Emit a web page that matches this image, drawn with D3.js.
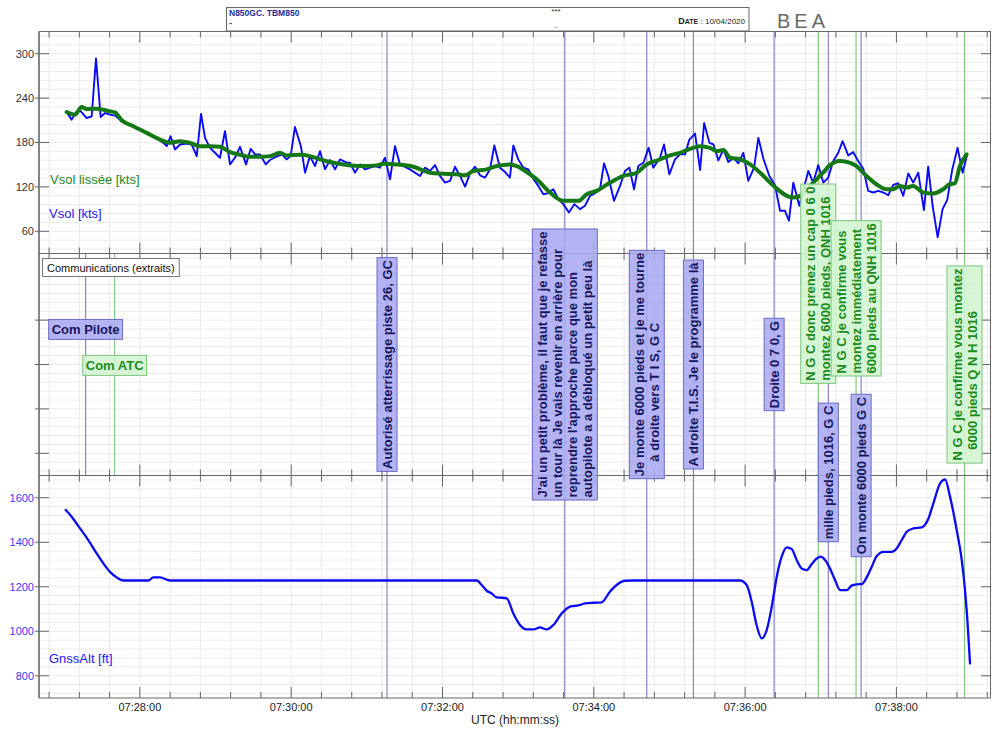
<!DOCTYPE html>
<html><head><meta charset="utf-8">
<script src="https://cdn.jsdelivr.net/npm/d3@7"></script>
<style>
html,body{margin:0;padding:0;background:#fff;}
svg{display:block;font-family:"Liberation Sans",Arial,Helvetica,sans-serif;}
</style></head><body>
<svg id="chart" width="992" height="731"></svg>
<script>
// ---- data (times in seconds after 07:26:40 UTC) ----
const startTime = "07:26:40";
const endTime = "07:39:15";

// raw ground speed, kts
const vsolT = [21.9,25.9,29.3,32.5,37.8,41.8,45.2,48.9,52.3,56.3,60.3,65.6,72.2,80.1,88,94.6,98.6,101.3,104.4,107.9,111.8,117.1,121.1,125.1,128.5,131.7,135.6,139.6,143.5,147.5,151.5,155.4,159.4,164.2,167.9,171.3,175.3,179.8,183.2,188,192.5,196.4,199.6,203,207.8,211,214.9,218.9,222.9,226.8,230.8,
  234.8,238.7,244,246.6,250.6,254.6,258.5,262.5,266.5,270.4,274.4,278.4,282.3,286.3,294.2,302.2,306.1,310.1,314.1,318,322,326,329.9,333.9,337.9,341.8,345.8,349.8,353.7,357.7,361.1,365.6,369.6,373.5,376.2,380.1,384.1,388.1,392,396,400,404,407.9,411.9,415.8,420.3,424.5,429.1,433,437,441,444.9,448.1,451.5,456,460.8,464.7,468.2,471.9,475.3,479.3,483.5,487.2,492.5,
  495.7,499.9,504.4,508.4,512.4,515.8,520.3,524.3,527.5,531.7,534.9,538.8,542.8,546.7,550.7,554.6,558.6,562.5,567.1,570.5,574.5,579.2,583.7,587.7,591.6,594.8,598.2,603,610.1,614,618,622,625.9,629.9,633.9,637.3,641.8,645.7,649.7,653.7,657.6,661.6,665.6,669.6,673.5,677.5,681.5,685.4,689.4,693.3,697.3,701.8,705.2,708.7,712.7,716.6,720.3,724.3,728.5,732.5,736.1];
const vsol = [221.2,210.9,220.7,223.4,213.1,215.4,293.7,214.5,219.8,217.6,216.3,208.6,204.2,197.5,190.7,184,179.5,175.1,188.5,170.6,177.3,178.6,177.3,161.6,218.5,186.3,172.8,166.1,159.4,195.2,150.4,159.4,174.2,150.4,171.5,163.9,163.9,150.4,156.3,160.7,163.9,157.2,161.6,201,174.2,139.2,161.6,148.2,168.3,143.7,156.3,
  143.7,157.2,152.7,152.7,139.2,150.4,143.7,146,148.2,146,159.4,130.3,175.1,150.4,143.7,134.8,146,141.5,149.5,134.8,125.8,128.1,147.3,134.8,120.4,138.3,147.3,135.7,132.5,143.7,176,146,140.1,132.5,176,157.2,146,143.7,131.2,121.3,110.1,111.5,116.8,103.4,96.7,85.5,96.7,90,94.5,107.9,111.5,116.8,151.8,134.8,101.2,121.3,141.5,146,116.8,148.2,152.7,172.8,146,159.4,
  177.3,137,157.2,163.9,163.9,184,192.1,142.8,206.4,179.5,177.3,155.8,170.6,153.6,159.4,151.8,166.1,128.1,146,186.3,158.1,134.8,122.2,87.7,87.7,74.3,125.8,94.5,141.5,125.8,149.5,125.8,132.5,154.9,166.1,181.8,162.5,167,154.9,144.6,114.6,112.4,114.6,112.4,108.8,122.7,124.9,107.9,138.3,125.8,139.2,88.6,147.3,94.5,51.9,90,102.5,143.7,172.8,139.2,163.9];

// smoothed ground speed, kts
const vsolSmoothT = [21.9,28.6,33.8,37.8,45.7,56.3,60.3,65.6,74.8,85.4,96,103.9,111.8,119.8,127.7,135.6,143.5,151.5,159.4,167.3,175.3,183.2,191.1,196.4,207,214.9,222.9,230.8,
  241.4,257.2,267.8,273.1,283.7,296.9,310.1,320.6,331.3,337.9,344.5,355.1,363,373.5,378.9,389.4,394.7,405.3,415.8,427.7,434.4,442.3,452.9,463.4,474,482,492.5,
  500.4,508.4,516.3,524.3,532.2,537.5,542.8,548.1,556,564,571.9,579.8,585.1,593.1,598.3,603.6,608.9,615.4,621.8,627.1,635,640.3,648.3,656.2,664.1,672.1,677.3,682.6,687.9,693.3,701.2,709.1,717.1,722.4,726.3,730.3,735.6];
const vsolSmooth = [221.2,217.6,227.9,225.2,225.7,222.1,220.7,210,201.9,193,184,179.5,181.8,179.5,175.1,175.1,174.2,167,163.4,160.7,160.7,161.6,166.1,162.5,163.4,161.6,157.2,153.6,
  150.4,148.2,149.1,151.3,150.4,147.3,139.2,137.9,137,135.7,141.5,143.7,148.2,150.4,148.2,137,130.3,112.4,101.2,101.2,110.1,114.6,125.8,134.8,139.2,150.4,157.2,
  162.5,166.1,171.5,175.1,172.8,168.3,169.7,159.4,157.2,150.4,139.2,125.8,117.7,107.9,105.6,107.9,116.8,128.1,139.2,149.1,154.9,154,148.2,134.8,123.6,116.8,116.8,121.3,119.1,121.3,112.4,111,116.8,123.6,124.9,148.2,163.9];

// GNSS altitude, ft
const altT = [20.6,25.9,32.5,39.1,45.7,51,56.3,61.6,66.9,86.7,90.6,96,103.9,347.1,351.1,355.1,359,363,365.6,370.9,376.2,381.5,386.8,392,397.3,402.6,407.9,414.5,422.4,427.7,433,439.6,446.2,452.8,458.1,464.7,471.3,555.9,561.2,565.2,569.1,573.1,577.1,581.1,585.1,589,593,597,600.9,604.9,608.9,612.8,616.8,620,623.4,627.3,631.3,635.3,640.6,644.5,648.5,652.5,656.4,660.4,664.4,669.6,676.3,680.2,684.2,688.2,693.4,700.1,705.4,709.3,714.6,718.6,722.5,727.8,731.8,734.4,735.7,738.4];
const alt = [1548,1515,1462,1410,1350,1305,1267,1242,1228,1228,1242,1242,1228,1228,1208,1182,1170,1152,1151,1148,1080,1028,1008,1008,1017,1008,1028,1080,1113,1116,1125,1128,1130,1178,1208,1227,1228,1228,1208,1133,1028,968,1005,1110,1245,1335,1377,1369,1320,1282,1275,1302,1327,1335,1320,1282,1230,1185,1185,1205,1211,1212,1242,1290,1338,1357,1357,1372,1410,1447,1462,1467,1507,1575,1664,1682,1605,1455,1320,1185,1095,851];

// radio communications (extracts)
const pilotTimes = ["07:31:16","07:33:37","07:34:42","07:35:19","07:36:23","07:37:06","07:37:32"];
const pilotTexts = [
  ["Autorisé atterrissage piste 26, GC"],
  ["J'ai un petit problème, il faut que je refasse","un tour là Je vais revenir en arrière pour","reprendre l'approche parce que mon","autopilote a a débloqué un petit peu là"],
  ["Je monte 6000 pieds et je me tourne","    à droite vers T I S, G C"],
  ["A droite T.I.S. Je le programme là"],
  ["Droite 0 7 0, G"],
  ["mille pieds, 1016, G C"],
  ["On monte 6000 pieds G C"]
];
const atcTimes = ["07:36:58","07:37:28","07:38:54"];
const atcTexts = [
  ["N G C donc prenez un cap 0 6 0","montez 6000 pieds, QNH 1016"],
  ["N G C je confirme vous","montez immédiatement","6000 pieds au QNH 1016"],
  ["N G C je confirme vous montez","   6000 pieds Q N H 1016"]
];

// axis ticks
const vsolTicks = [60,120,180,240,300];
const altTicks = [800,1000,1200,1400,1600];
const commTicks = [0,1,2,3];

// ---- helpers ----
const toSec = s => { const p = s.split(":").map(Number); return p[0]*3600 + p[1]*60 + p[2]; };
const base = toSec(startTime);
const rel = s => toSec(s) - base;
const pad2 = d3.format("02d");
const fmtTime = t => { const s = Math.round(base + t); return pad2(Math.floor(s/3600)) + ":" + pad2(Math.floor(s/60)%60) + ":" + pad2(s%60); };

// ---- layout ----
const svg = d3.select("#chart");
const X0 = 39, X1 = 991;
const P = { top:[31.5,253.5], mid:[253.5,475.5], bot:[475.5,698] };
const x = d3.scaleLinear().domain([0, rel(endTime)]).range([X0, X1]);
const yV = d3.scaleLinear().domain([30,330]).range([P.top[1], P.top[0]]);
const yC = d3.scaleLinear().domain([-0.5,4.5]).range([P.mid[1], P.mid[0]]);
const yA = d3.scaleLinear().domain([700,1700]).range([P.bot[1], P.bot[0]]);

const minorT = d3.range(8, rel(endTime), 24);
const majorT = d3.range(80, rel(endTime), 120);

// grid
const grid = svg.append("g").attr("stroke","#ebebeb").attr("stroke-width",1);
minorT.forEach(t => grid.append("line").attr("x1",x(t)).attr("x2",x(t)).attr("y1",P.top[0]).attr("y2",P.bot[1]));
d3.range(36,330,12).forEach(v => grid.append("line").attr("x1",X0).attr("x2",X1).attr("y1",yV(v)).attr("y2",yV(v)));
d3.range(-2,23).map(i=>i*0.2).forEach(v => grid.append("line").attr("x1",X0).attr("x2",X1).attr("y1",yC(v)).attr("y2",yC(v)));
d3.range(720,1700,40).forEach(v => grid.append("line").attr("x1",X0).attr("x2",X1).attr("y1",yA(v)).attr("y2",yA(v)));

// communication marker lines
const pilotLine = "#8585c4", atcLine = "#86c686";
const markers = svg.append("g").attr("stroke-width",1.2);
pilotTimes.forEach(s => markers.append("line").attr("stroke",pilotLine)
  .attr("x1",x(rel(s))).attr("x2",x(rel(s))).attr("y1",P.top[0]).attr("y2",P.bot[1]));
atcTimes.forEach(s => markers.append("line").attr("stroke",atcLine)
  .attr("x1",x(rel(s))).attr("x2",x(rel(s))).attr("y1",P.top[0]).attr("y2",P.bot[1]));
// legend sample lines in the communications panel
const legendPilotT = rel("07:27:17"), legendAtcT = rel("07:27:40");
markers.append("line").attr("stroke",pilotLine).attr("x1",x(legendPilotT)).attr("x2",x(legendPilotT)).attr("y1",P.mid[0]).attr("y2",P.mid[1]);
markers.append("line").attr("stroke",atcLine).attr("x1",x(legendAtcT)).attr("x2",x(legendAtcT)).attr("y1",P.mid[0]).attr("y2",P.mid[1]);

// data lines
const rawLine = d3.line().x((d,i)=>x(vsolT[i])).y(d=>yV(d));
svg.append("path").attr("d", rawLine(vsol)).attr("fill","none").attr("stroke","#0a0af5").attr("stroke-width",1.9).attr("stroke-linejoin","round");
const smoothLine = d3.line().x((d,i)=>x(vsolSmoothT[i])).y(d=>yV(d)).curve(d3.curveMonotoneX);
svg.append("path").attr("d", smoothLine(vsolSmooth)).attr("fill","none").attr("stroke","#147814").attr("stroke-width",4).attr("stroke-linejoin","round").attr("stroke-linecap","round");
const altLine = d3.line().x((d,i)=>x(altT[i])).y(d=>yA(d)).curve(d3.curveMonotoneX);
svg.append("path").attr("d", altLine(alt)).attr("fill","none").attr("stroke","#0a0af5").attr("stroke-width",2.3).attr("stroke-linejoin","round");

// frames and ticks
const frame = svg.append("g").attr("stroke","#666").attr("fill","none");
[P.top[0], P.mid[0], P.bot[0], P.bot[1]].forEach(yb => frame.append("line").attr("x1",X0).attr("x2",X1).attr("y1",yb).attr("y2",yb));
frame.append("line").attr("x1",X0).attr("x2",X0).attr("y1",P.top[0]).attr("y2",P.bot[1]).attr("stroke-width",1.6);
frame.append("line").attr("x1",X1-0.5).attr("x2",X1-0.5).attr("y1",P.top[0]).attr("y2",P.bot[1]);
const bounds = [[P.top[0],false,true],[P.mid[0],true,true],[P.bot[0],true,true],[P.bot[1],true,false]];
bounds.forEach(([yb, up, down]) => {
  minorT.forEach(t => {
    const L = majorT.includes(t) ? 11 : 6;
    frame.append("line").attr("x1",x(t)).attr("x2",x(t)).attr("y1", up ? yb-L : yb).attr("y2", down ? yb+L : yb);
  });
});
function yTicks(scale, vals) {
  vals.forEach(v => {
    frame.append("line").attr("x1",X0-4).attr("x2",X0+10).attr("y1",scale(v)).attr("y2",scale(v));
    frame.append("line").attr("x1",X1-10).attr("x2",X1).attr("y1",scale(v)).attr("y2",scale(v));
  });
}
yTicks(yV, vsolTicks); yTicks(yC, commTicks); yTicks(yA, altTicks);

// tick labels
const lab = svg.append("g").attr("font-size",11);
vsolTicks.forEach(v => lab.append("text").attr("x",34).attr("y",yV(v)).attr("dy","0.36em").attr("text-anchor","end").attr("fill","#333").text(v));
altTicks.forEach(v => lab.append("text").attr("x",34).attr("y",yA(v)).attr("dy","0.36em").attr("text-anchor","end").attr("fill","#3c3cf0").text(v));
majorT.forEach(t => lab.append("text").attr("x",x(t)).attr("y",711).attr("text-anchor","middle").attr("fill","#222").text(fmtTime(t)));
svg.append("text").attr("x",(X0+X1)/2).attr("y",724).attr("text-anchor","middle").attr("font-size",12).attr("fill","#222").text("UTC (hh:mm:ss)");

// series names
svg.append("text").attr("x",50).attr("y",184).attr("font-size",13).attr("fill","#1f8a1f").text("Vsol lissée [kts]");
svg.append("text").attr("x",49).attr("y",218).attr("font-size",13).attr("fill","#1c1cf0").text("Vsol [kts]");
svg.append("text").attr("x",49).attr("y",663).attr("font-size",13).attr("fill","#1c1cf0").text("GnssAlt [ft]");

// communications panel title
const ct = svg.append("g");
const ctText = ct.append("text").attr("x",47).attr("y",271.5).attr("font-size",11).attr("fill","#111").text("Communications (extraits)");
const ctW = ctText.node().getComputedTextLength();
ct.insert("rect","text").attr("x",42.5).attr("y",258.5).attr("width",ctW+9).attr("height",18).attr("fill","#fff").attr("stroke","#777");

// text boxes
const pilotStyle = {fill:"#aaaaf2", stroke:"#6b6bc2", text:"#16165e", opacity:0.88};
const atcStyle = {fill:"#d2f5d2", stroke:"#7cc47c", text:"#1b8c1b", opacity:0.9};
const notes = svg.append("g");
// vertical placement of each note in the communications panel
const pilotLevel = [2,2,2,2,2,-0.43,-0.5];
const atcLevel = [3.82,3.49,2];
function note(t, lines, level, st) {
  const g = notes.append("g").attr("transform",`translate(${x(t)},${yC(level)}) rotate(-90)`);
  const rect = g.append("rect");
  const txt = g.append("text").attr("font-size",13).attr("font-weight","bold").attr("fill",st.text)
    .attr("xml:space","preserve").style("white-space","pre");
  const n = lines.length, lh = 15;
  lines.forEach((s,i) => txt.append("tspan").attr("x",0).attr("y",(i-(n-1)/2)*lh + 4.6).text(s));
  const w = d3.max(txt.selectAll("tspan").nodes(), nd => nd.getComputedTextLength());
  txt.selectAll("tspan").attr("x",-w/2);
  rect.attr("x",-w/2-2.5).attr("y",-n*lh/2-2.5).attr("width",w+5).attr("height",n*lh+5)
    .attr("fill",st.fill).attr("fill-opacity",st.opacity).attr("stroke",st.stroke).attr("stroke-width",1);
}
pilotTimes.forEach((s,i) => note(rel(s), pilotTexts[i], pilotLevel[i], pilotStyle));
atcTimes.forEach((s,i) => note(rel(s), atcTexts[i], atcLevel[i], atcStyle));

// legend boxes
function legendBox(t, level, label, st) {
  const g = notes.append("g").attr("transform",`translate(${x(t)},${yC(level)})`);
  const rect = g.append("rect");
  const txt = g.append("text").attr("font-size",13).attr("font-weight","bold").attr("fill",st.text)
    .attr("text-anchor","middle").attr("y",4.6).text(label);
  const w = txt.node().getComputedTextLength();
  rect.attr("x",-w/2-3).attr("y",-10).attr("width",w+6).attr("height",20)
    .attr("fill",st.fill).attr("fill-opacity",st.opacity).attr("stroke",st.stroke);
}
legendBox(legendPilotT, 2.79, "Com Pilote", pilotStyle);
legendBox(legendAtcT, 1.98, "Com ATC", atcStyle);

// header
const hd = svg.append("g");
hd.append("rect").attr("x",226.5).attr("y",7.5).attr("width",522.5).attr("height",23.5).attr("fill","#fff").attr("stroke","#666");
hd.append("text").attr("x",229).attr("y",16).attr("font-size",8.5).attr("font-weight","bold").attr("fill","#1e2c9c").text("N850GC. TBM850");
hd.append("text").attr("x",229).attr("y",26).attr("font-size",9).attr("font-weight","bold").attr("fill","#1e2c9c").text("-");
hd.append("text").attr("x",556).attr("y",14).attr("font-size",8).attr("text-anchor","middle").attr("fill","#333").text("***");
hd.append("text").attr("x",556).attr("y",29).attr("font-size",8).attr("text-anchor","middle").attr("fill","#555").text("-");
const dt = hd.append("text").attr("x",745).attr("y",24).attr("text-anchor","end").attr("fill","#222");
dt.append("tspan").attr("font-size",9).attr("font-weight","bold").text("D");
dt.append("tspan").attr("font-size",7).attr("font-weight","bold").text("ATE");
dt.append("tspan").attr("font-size",8).text(" : 10/04/2020");
svg.append("text").attr("x",777).attr("y",28).attr("font-family","'Liberation Sans', Arial, sans-serif")
  .attr("font-size",20).attr("letter-spacing",4).attr("fill","#6a6a6a").text("BEA");
</script>
</body></html>
